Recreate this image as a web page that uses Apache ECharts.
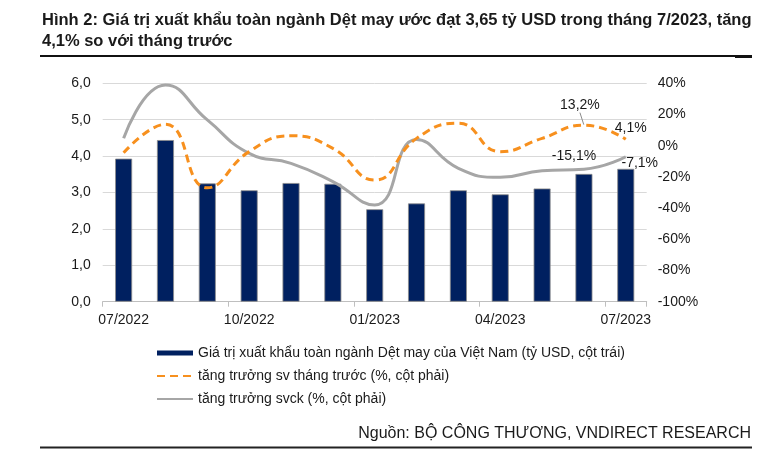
<!DOCTYPE html>
<html>
<head>
<meta charset="utf-8">
<script src="https://cdn.jsdelivr.net/npm/echarts@6/dist/echarts.min.js"></script>
<style>
html,body{margin:0;padding:0;background:#fff;}
#c{width:765px;height:455px;}
</style>
</head>
<body>
<div id="c"></div>
<script>
const categories = ['07/2022','08/2022','09/2022','10/2022','11/2022','12/2022','01/2023','02/2023','03/2023','04/2023','05/2023','06/2023','07/2023'];
const exportValue = [3.93, 4.44, 3.25, 3.06, 3.26, 3.24, 2.54, 2.70, 3.06, 2.95, 3.11, 3.51, 3.65];
const momGrowth = [-4.5, 13.7, -27.0, -3.8, 6.4, -1.7, -22.0, 4.7, 14.4, -3.8, 4.7, 13.2, 4.1];
const yoyGrowth = [4.7, 38.9, 16.5, -4.9, -11.3, -23.0, -38.0, 4.0, -14.5, -20.3, -16.0, -15.1, -7.1];
const leftTicks = [0, 1, 2, 3, 4, 5, 6];
const rightTicks = [-100, -80, -60, -40, -20, 0, 20, 40];
const seriesNames = [
  'Giá trị xuất khẩu toàn ngành Dệt may của Việt Nam (tỷ USD, cột trái)',
  'tăng trưởng sv tháng trước (%, cột phải)',
  'tăng trưởng svck (%, cột phải)'
];
const titleText = 'Hình 2: Giá trị xuất khẩu toàn ngành Dệt may ước đạt 3,65 tỷ USD trong tháng 7/2023, tăng\n4,1% so với tháng trước';
const sourceText = 'Nguồn: BỘ CÔNG THƯƠNG, VNDIRECT RESEARCH';

const FONT = '"Liberation Sans", Arial, sans-serif';
const fmtPct = v => v.toFixed(1).replace('.', ',') + '%';

// labelled points: [seriesIndex, dataIndex, dx, dy, guide]
const labelled = [
  [1, 11, -4, -7, true],
  [1, 12, 5, 1, false],
  [2, 11, -10, -1, false],
  [2, 12, 14, 19, false]
];
function buildData(arr, sIdx) {
  return arr.map((v, i) => {
    const l = labelled.find(x => x[0] === sIdx && x[1] === i);
    if (!l) return v;
    return {
      value: v,
      label: { show: true, position: 'top', formatter: fmtPct(v) },
      labelLine: { show: l[4], lineStyle: { color: '#8c8c8c', width: 1 } }
    };
  });
}

const chart = echarts.init(document.getElementById('c'), null, { renderer: 'canvas' });
chart.setOption({
  animation: false,
  backgroundColor: '#fff',
  textStyle: { fontFamily: FONT },
  title: {
    text: titleText,
    left: 37, top: 5,
    textStyle: { fontFamily: FONT, fontSize: 16.5, fontWeight: 'bold', color: '#1a1a1a', lineHeight: 21 }
  },
  grid: { left: 102.7, right: 118.3, top: 83.3, bottom: 153.3, containLabel: false },
  legend: {
    orient: 'vertical',
    left: 151, top: 341,
    itemWidth: 36, itemHeight: 5, itemGap: 9,
    textStyle: { fontFamily: FONT, fontSize: 14, color: '#1a1a1a' },
    data: [
      { name: seriesNames[0], icon: 'rect', itemStyle: { borderWidth: 0 } },
      { name: seriesNames[1] },
      { name: seriesNames[2] }
    ]
  },
  xAxis: {
    type: 'category',
    data: categories,
    boundaryGap: true,
    axisLine: { show: true, lineStyle: { color: '#bfbfbf', width: 1 } },
    axisTick: { show: true, interval: 2, alignWithLabel: false, length: 5, lineStyle: { color: '#bfbfbf' } },
    axisLabel: { interval: 2, margin: 11, fontSize: 14, color: '#1a1a1a', fontFamily: FONT },
    splitLine: { show: false }
  },
  yAxis: [
    {
      type: 'value', min: leftTicks[0], max: leftTicks[leftTicks.length - 1], interval: 1,
      axisLine: { show: false }, axisTick: { show: false },
      axisLabel: { margin: 12, fontSize: 14, color: '#1a1a1a', fontFamily: FONT, formatter: v => v.toFixed(1).replace('.', ',') },
      splitLine: { show: true, lineStyle: { color: '#d9d9d9', width: 1 } }
    },
    {
      type: 'value', min: rightTicks[0], max: rightTicks[rightTicks.length - 1], interval: 20,
      axisLine: { show: false }, axisTick: { show: false },
      axisLabel: { margin: 11, fontSize: 14, color: '#1a1a1a', fontFamily: FONT, formatter: v => v + '%' },
      splitLine: { show: false }
    }
  ],
  series: [
    {
      name: seriesNames[0], type: 'bar', yAxisIndex: 0,
      data: exportValue, barWidth: 17,
      itemStyle: { color: '#002060', borderColor: '#8c8c8c', borderWidth: 0.8 },
      z: 2
    },
    {
      name: seriesNames[1], type: 'line', yAxisIndex: 1,
      data: buildData(momGrowth, 1), smooth: 0.5, symbol: 'circle', symbolSize: 1, showSymbol: true,
      lineStyle: { color: '#F7901E', width: 3, type: [8, 5] },
      itemStyle: { color: 'rgba(0,0,0,0)', borderWidth: 0 },
      label: { show: false, fontSize: 14, color: '#1a1a1a', fontFamily: FONT },
      z: 4
    },
    {
      name: seriesNames[2], type: 'line', yAxisIndex: 1,
      data: buildData(yoyGrowth, 2), smooth: 0.5, symbol: 'circle', symbolSize: 1, showSymbol: true,
      lineStyle: { color: '#A6A6A6', width: 3 },
      itemStyle: { color: 'rgba(0,0,0,0)', borderWidth: 0 },
      label: { show: false, fontSize: 14, color: '#1a1a1a', fontFamily: FONT },
      z: 3
    }
  ],
  labelLayout: function (p) {
    const l = labelled.find(x => x[0] === p.seriesIndex && x[1] === p.dataIndex);
    if (l) return { dx: l[2], dy: l[3] };
  },
  graphic: [
    { type: 'line', shape: { x1: 40, y1: 56, x2: 752, y2: 56 }, style: { stroke: '#111', lineWidth: 2 } },
    { type: 'line', shape: { x1: 735, y1: 56.5, x2: 752, y2: 56.5 }, style: { stroke: '#111', lineWidth: 3 } },
    { type: 'line', shape: { x1: 40, y1: 447.5, x2: 752, y2: 447.5 }, style: { stroke: '#222', lineWidth: 2 } },
    { type: 'text', right: 14, top: 426, style: { text: sourceText, font: '16px ' + FONT, fill: '#1a1a1a' } }
  ]
});
</script>
</body>
</html>
